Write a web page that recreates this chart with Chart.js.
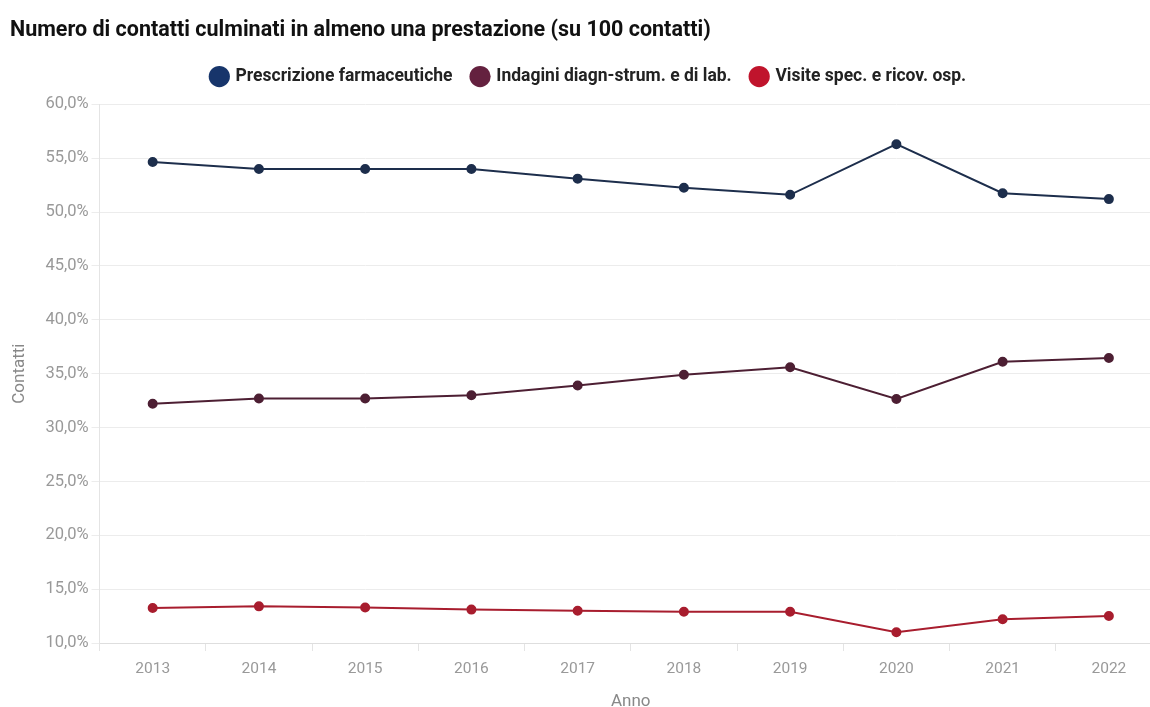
<!DOCTYPE html>
<html lang="it">
<head>
<meta charset="utf-8">
<title>Contatti culminati in almeno una prestazione</title>
<script src="https://cdn.jsdelivr.net/npm/chart.js@4"></script>
<style>
  html, body { margin: 0; padding: 0; background: #fff; overflow: hidden; }
  #wrap { width: 1168px; height: 712px; }
</style>
</head>
<body>
<div id="wrap"><canvas id="grafico"></canvas></div>
<script>
const anni = ["2013", "2014", "2015", "2016", "2017", "2018", "2019", "2020", "2021", "2022"];
const prescrizioni = [54.65, 54.0, 54.0, 54.0, 53.1, 52.25, 51.6, 56.3, 51.75, 51.2];
const indagini = [32.2, 32.7, 32.7, 33.0, 33.9, 34.9, 35.6, 32.65, 36.1, 36.45];
const visite = [13.25, 13.4, 13.3, 13.1, 13.0, 12.9, 12.9, 11.0, 12.2, 12.5];

const nomiSerie = ["Prescrizione farmaceutiche", "Indagini diagn-strum. e di lab.", "Visite spec. e ricov. osp."];
const coloriSerie = ["#17356b", "#64213f", "#c0142c"];
const coloriLinee = ["#1d2e4c", "#4d1f33", "#a81d2e"];

const titolo = "Numero di contatti culminati in almeno una prestazione (su 100 contatti)";

const datasets = [prescrizioni, indagini, visite].map((valori, i) => ({
  label: nomiSerie[i],
  data: valori,
  borderColor: coloriLinee[i],
  backgroundColor: coloriSerie[i],
  pointBackgroundColor: coloriLinee[i],
  pointBorderColor: coloriLinee[i],
  borderWidth: 2,
  pointRadius: 4,
  tension: 0,
}));

// un po' di spazio in più sotto la legenda
const spazioLegenda = {
  id: "spazioLegenda",
  beforeInit(chart) {
    const fitOrig = chart.legend.fit;
    chart.legend.fit = function () {
      fitOrig.bind(chart.legend)();
      this.height += 9;
    };
  },
};

const ctx = document.getElementById("grafico");
new Chart(ctx, {
  type: "line",
  data: { labels: anni, datasets },
  plugins: [spazioLegenda],
  options: {
    responsive: true,
    maintainAspectRatio: false,
    animation: false,
    layout: { padding: { left: 10, right: 0, top: 18, bottom: 0 } },
    plugins: {
      title: {
        display: true,
        text: titolo,
        align: "start",
        color: "#111",
        font: { family: "Roboto", size: 21.5, weight: "bold" },
        padding: { top: 0, bottom: 4 },
      },
      legend: {
        position: "top",
        labels: {
          usePointStyle: true,
          pointStyle: "circle",
          boxWidth: 15,
          boxHeight: 15,
          padding: 20,
          color: "#222",
          font: { family: "Roboto", size: 17.5, weight: "bold" },
          generateLabels: (chart) => chart.data.datasets.map((ds, i) => ({
            text: ds.label,
            fillStyle: coloriSerie[i],
            strokeStyle: coloriSerie[i],
            lineWidth: 0,
            pointStyle: "circle",
            datasetIndex: i,
            fontColor: "#222",
          })),
        },
      },
      tooltip: { enabled: false },
    },
    scales: {
      x: {
        offset: true,
        title: {
          display: true,
          text: "Anno",
          color: "#888",
          font: { family: "Roboto", size: 17 },
          padding: { top: 4, bottom: 0 },
        },
        grid: {
          offset: true,
          drawOnChartArea: false,
          drawTicks: true,
          tickLength: 8,
          color: "#e4e4e4",
        },
        border: { color: "#dedede" },
        ticks: {
          color: "#999",
          font: { family: "Roboto", size: 15.5 },
          padding: 9,
        },
      },
      y: {
        min: 10,
        max: 60,
        title: {
          display: true,
          text: "Contatti",
          color: "#888",
          font: { family: "Roboto", size: 17 },
          padding: { top: 0, bottom: 12 },
        },
        grid: {
          color: "#ececec",
          tickLength: 8,
        },
        border: { color: "#e4e4e4" },
        ticks: {
          stepSize: 5,
          color: "#999",
          font: { family: "Roboto", size: 16.5 },
          padding: 3,
          callback: (v) => v.toFixed(1).replace(".", ",") + "%",
        },
      },
    },
  },
});
</script>
</body>
</html>
